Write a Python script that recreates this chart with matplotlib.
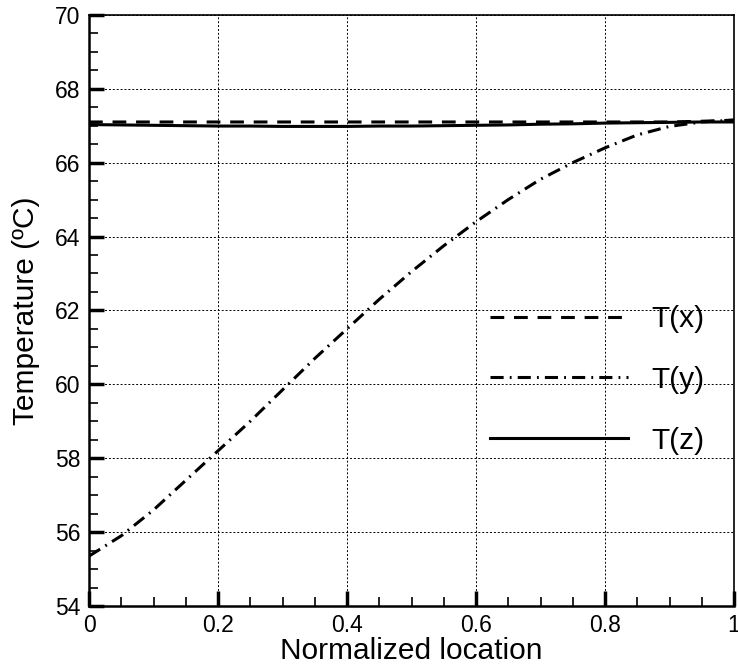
import matplotlib
matplotlib.use("Agg")
import matplotlib.pyplot as plt
from matplotlib.ticker import MultipleLocator, FormatStrFormatter
import numpy as np

plt.rcParams['font.family'] = ['Liberation Sans', 'DejaVu Sans']

# --- data ---
loc = [0.0, 0.05, 0.1, 0.15, 0.2, 0.25, 0.3, 0.35, 0.4, 0.45, 0.5,
       0.55, 0.6, 0.65, 0.7, 0.75, 0.8, 0.85, 0.9, 0.95, 1.0]
t_x = [67.1, 67.1, 67.1, 67.1, 67.1, 67.1, 67.1, 67.1, 67.1, 67.1, 67.1,
       67.1, 67.1, 67.1, 67.1, 67.1, 67.1, 67.1, 67.1, 67.12, 67.15]
t_y = [55.35, 55.9, 56.6, 57.4, 58.2, 59.0, 59.85, 60.7, 61.5, 62.3, 63.05,
       63.75, 64.4, 65.0, 65.55, 66.0, 66.4, 66.75, 66.98, 67.1, 67.15]
t_z = [67.03, 67.02, 67.01, 67.0, 66.99, 66.99, 66.98, 66.98, 66.98, 66.99, 66.99,
       67.0, 67.01, 67.02, 67.04, 67.05, 67.07, 67.08, 67.09, 67.1, 67.1]

fig = plt.figure(figsize=(7.38, 6.65), dpi=100)
ax = fig.add_axes([0.1206, 0.0887, 0.874, 0.889])

lw = 2.2
ax.plot(loc, t_x, color='black', lw=lw, linestyle=(0, (4.5, 3.2)), label='T(x)')
ax.plot(loc, t_y, color='black', lw=lw, linestyle=(0, (4.3, 2.0, 0.6, 2.0)), label='T(y)')
ax.plot(loc, t_z, color='black', lw=lw, linestyle='-', label='T(z)')

ax.set_xlim(0, 1)
ax.set_ylim(54, 70)
ax.xaxis.set_major_locator(MultipleLocator(0.2))
ax.xaxis.set_minor_locator(MultipleLocator(0.05))
ax.yaxis.set_major_locator(MultipleLocator(2))
ax.yaxis.set_minor_locator(MultipleLocator(0.5))
ax.xaxis.set_major_formatter(FormatStrFormatter('%g'))

ax.tick_params(which='both', direction='in', top=False, right=False,
               labelsize=16.5, color='black')
ax.tick_params(which='major', length=11, width=2.5, pad=6)
ax.tick_params(which='minor', length=6.5, width=1.2)

ax.grid(True, which='major', color='black', linestyle=(0, (2, 2)), linewidth=0.7)

for side in ['left', 'bottom']:
    ax.spines[side].set_linewidth(1.8)
for side in ['top', 'right']:
    ax.spines[side].set_linewidth(1.2)

ax.set_xlabel('Normalized location', fontsize=21.5, labelpad=0)
ax.set_ylabel('Temperature (ºC)', fontsize=21.5, labelpad=11)

ax.legend(loc='upper left', bbox_to_anchor=(0.622, 0.509), frameon=False,
          borderpad=0, borderaxespad=0,
          fontsize=21.5, handlelength=4.6, handletextpad=0.8, labelspacing=1.1)

fig.savefig('out.png', dpi=100)
